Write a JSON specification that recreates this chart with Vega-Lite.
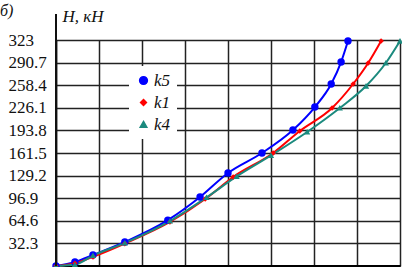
{
  "$schema": "https://vega.github.io/schema/vega-lite/v6.json",
  "autosize": "none",
  "width": 344,
  "height": 226,
  "padding": {"left": 56, "top": 40, "right": 2, "bottom": 1},
  "background": "white",
  "title": {"text": "б)", "anchor": "start", "frame": "group", "dx": -56, "offset": -25, "baseline": "alphabetic", "font": "Times New Roman, Liberation Serif, serif", "fontSize": 16, "fontStyle": "italic", "fontWeight": "normal", "color": "#111"},
  "config": {
    "font": "Times New Roman, Liberation Serif, serif",
    "view": {"stroke": null},
    "axis": {"labelColor": "#111", "titleColor": "#111", "labelOverlap": false}
  },
  "data": {"values": [
    {"series": "k5", "x": 0, "y": 0},
    {"series": "k5", "x": 0.44, "y": 5.7},
    {"series": "k5", "x": 0.86, "y": 15.7},
    {"series": "k5", "x": 1.6, "y": 34.3},
    {"series": "k5", "x": 2.6, "y": 65.5},
    {"series": "k5", "x": 3.35, "y": 98.6},
    {"series": "k5", "x": 4.0, "y": 132.9},
    {"series": "k5", "x": 4.79, "y": 161.5},
    {"series": "k5", "x": 5.51, "y": 194.3},
    {"series": "k5", "x": 6.02, "y": 227.2},
    {"series": "k5", "x": 6.4, "y": 260.1},
    {"series": "k5", "x": 6.63, "y": 291.5},
    {"series": "k5", "x": 6.79, "y": 321.5},
    {"series": "k1", "x": 0, "y": 0},
    {"series": "k1", "x": 0.44, "y": 4},
    {"series": "k1", "x": 0.86, "y": 13},
    {"series": "k1", "x": 1.6, "y": 32},
    {"series": "k1", "x": 2.65, "y": 62.9},
    {"series": "k1", "x": 3.47, "y": 95.7},
    {"series": "k1", "x": 4.12, "y": 127.2},
    {"series": "k1", "x": 5.05, "y": 161.5},
    {"series": "k1", "x": 5.67, "y": 193},
    {"series": "k1", "x": 6.42, "y": 225.8},
    {"series": "k1", "x": 6.91, "y": 260.1},
    {"series": "k1", "x": 7.26, "y": 290.1},
    {"series": "k1", "x": 7.56, "y": 321.5},
    {"series": "k4", "x": 0, "y": 0},
    {"series": "k4", "x": 0.44, "y": 2},
    {"series": "k4", "x": 0.86, "y": 15},
    {"series": "k4", "x": 1.6, "y": 33},
    {"series": "k4", "x": 2.65, "y": 64.3},
    {"series": "k4", "x": 3.5, "y": 98},
    {"series": "k4", "x": 4.2, "y": 128},
    {"series": "k4", "x": 5.0, "y": 158},
    {"series": "k4", "x": 5.84, "y": 191.5},
    {"series": "k4", "x": 6.6, "y": 225.8},
    {"series": "k4", "x": 7.21, "y": 257.2},
    {"series": "k4", "x": 7.67, "y": 290.1},
    {"series": "k4", "x": 8.0, "y": 321.5}
  ]},
  "resolve": {"scale": {"x": "independent", "y": "independent"}, "axis": {"x": "independent", "y": "independent"}},
  "layer": [
    {
      "encoding": {
        "x": {"field": "x", "type": "quantitative", "scale": {"domain": [0, 8], "nice": false},
          "axis": {"values": [0,1,2,3,4,5,6,7,8], "labels": false, "ticks": false, "title": null, "grid": true, "gridColor": "#222", "gridWidth": 1.5, "domainColor": "#000", "domainWidth": 3}},
        "y": {"field": "y", "type": "quantitative", "scale": {"domain": [0, 323], "nice": false},
          "axis": {"values": [0,32.3,64.6,96.9,129.2,161.5,193.8,226.1,258.4,290.7,323], "labelExpr": "datum.value == 0 ? '' : format(datum.value, '~g')", "ticks": false, "labelAlign": "left", "labelPadding": 48, "labelBaseline": "middle", "labelOverlap": false, "labelFont": "Times New Roman, Liberation Serif, serif", "labelFontSize": 17, "grid": true, "gridColor": "#222", "gridWidth": 1.5, "domainColor": "#111", "domainWidth": 1.5,
            "title": "H, кН", "titleAngle": 0, "titleAlign": "left", "titleBaseline": "alphabetic", "titleX": 6, "titleY": -19, "titleFont": "Times New Roman, Liberation Serif, serif", "titleFontSize": 17, "titleFontStyle": "italic", "titleFontWeight": "normal"}},
        "color": {"field": "series", "type": "nominal", "scale": {"domain": ["k5", "k1", "k4"], "range": ["#0000ff", "#ff0000", "#1b8a7e"]},
          "legend": {"orient": "none", "legendX": 73, "legendY": 26, "title": null, "fillColor": "white", "padding": 6, "symbolSize": 60, "rowPadding": 4, "labelFont": "Times New Roman, Liberation Serif, serif", "labelFontSize": 17, "labelFontStyle": "italic", "labelColor": "#111", "labelOffset": 2}}
      },
      "layer": [
        {"mark": {"type": "line", "strokeWidth": 2, "interpolate": "monotone"}},
        {
          "mark": {"type": "point", "filled": true, "opacity": 1, "size": 55},
          "encoding": {
            "shape": {"field": "series", "type": "nominal", "scale": {"domain": ["k5", "k1", "k4"], "range": ["circle", "M0,-0.75L0.75,0L0,0.75L-0.75,0Z", "M0,-0.8L0.85,0.7L-0.85,0.7Z"]}}
          }
        }
      ]
    },
    {
      "mark": {"type": "rule", "color": "#111", "strokeWidth": 1.5, "clip": false},
      "encoding": {
        "x": {"datum": 0, "type": "quantitative", "scale": {"domain": [0, 8], "nice": false}, "axis": null},
        "y": {"datum": 0, "type": "quantitative", "scale": {"domain": [0, 323], "nice": false}, "axis": null},
        "y2": {"datum": 360}
      }
    }
  ]
}
